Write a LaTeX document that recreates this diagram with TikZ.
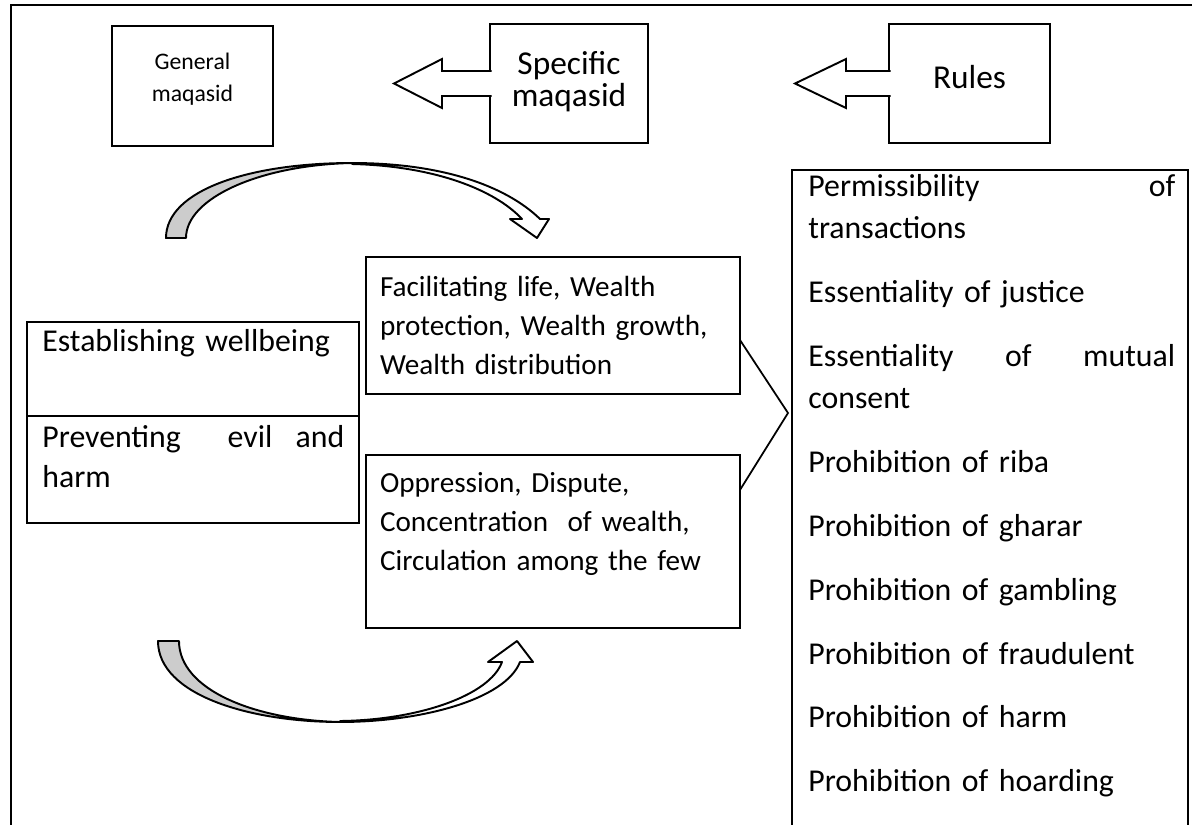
\documentclass[tikz,border=0pt]{standalone}
\usepackage{fontspec}
\setmainfont{Carlito}
\usetikzlibrary{positioning}

\begin{document}
\begin{tikzpicture}[x=0.02cm, y=-0.02cm,
	box/.style={draw, line width=1.1pt, inner sep=0pt, outer sep=0pt},
	para/.style={anchor=north west, inner sep=0pt, align=left},
	blockarrow/.style={draw, fill=white, line width=1.1pt},
	bendarrow/.style={draw, line width=1.1pt, line join=round}]
	\path[use as bounding box, clip] (0,0) rectangle (1192,824);
	\draw[line width=1.4pt] (11,830) -- (11,5) -- (1200,5);
	% top row
	\node[box, minimum width=3.22cm, minimum height=2.4cm] (gen) at (192.5,86) {};
	\node[box, minimum width=3.16cm, minimum height=2.38cm] (spec) at (569,83.5) {};
	\node[box, minimum width=3.22cm, minimum height=2.38cm] (rules) at (969.5,83.5) {};
	\node[align=center, font=\fontsize{13.5}{18.2}\selectfont] (gentxt) at ([yshift=0.14cm]gen.center) {General\\maqasid};
	\node[align=center, font=\fontsize{19}{18.2}\selectfont] (spectxt) at ([yshift=0.04cm]spec.center) {Specific\\maqasid};
	\node[font=\fontsize{19}{22}\selectfont] (rulestxt) at ([yshift=0.13cm]rules.center) {Rules};
	\draw[blockarrow] ([xshift=0.03cm]spec.west) ++(0,-12.5) -- ++(-49.5,0) -- ++(0,-12) -- ++(-48,24.5) -- ++(48,24.5) -- ++(0,-12) -- ++(49.5,0);
	\draw[blockarrow] ([xshift=0.03cm]rules.west) ++(0,-12.5) -- ++(-44.5,0) -- ++(0,-12) -- ++(-51,24.5) -- ++(51,24.5) -- ++(0,-12) -- ++(44.5,0);
	% left column
	\node[box, minimum width=6.64cm, minimum height=1.88cm] (estab) at (193,369) {};
	\node[box, minimum width=6.64cm, minimum height=2.14cm, below=0cm of estab] (prevent) {};
	\node[para, text width=6.04cm, font=\fontsize{18.1}{22.8}\selectfont, below right=0.14cm and 0.3cm of estab.north west] (estabtxt) {Establishing wellbeing};
	\node[para, text width=6.04cm, font=\fontsize{18.1}{22.8}\selectfont, below right=0.18cm and 0.3cm of prevent.north west] (preventtxt) {Preventing\hfill\hfill evil\hfill and\\ harm};
	% middle column
	\node[box, minimum width=7.48cm, minimum height=2.74cm, inner xsep=0.28cm, text width=6.92cm, align=left, font=\fontsize{16.6}{22.2}\selectfont] (facil) at (553,325.5) {Facilitating life, Wealth\\ protection, Wealth growth,\\ Wealth distribution};
	\node[box, minimum width=7.48cm, minimum height=3.46cm, inner xsep=0.28cm, text width=6.92cm, align=left, font=\fontsize{16.6}{22.2}\selectfont, below=1.22cm of facil] (oppr) {Oppression, Dispute,\\ Concentration\ \ of wealth,\\ Circulation among the few\\ \mbox{}};
	% rules list
	\node[box, minimum width=7.92cm, minimum height=14cm, anchor=north west] (rulelist) at (792,170) {};
	\node[para, text width=7.34cm, font=\fontsize{18.1}{24.2}\selectfont, below right=0.08cm and 0.32cm of rulelist.north west] (listtxt) {Permissibility\hfill of\\ transactions\\[0.425cm]
		Essentiality of justice\\[0.425cm]
		Essentiality\hfill of\hfill mutual\\ consent\\[0.425cm]
		Prohibition of riba\\[0.425cm]
		Prohibition of gharar\\[0.425cm]
		Prohibition of gambling\\[0.425cm]
		Prohibition of fraudulent\\[0.425cm]
		Prohibition of harm\\[0.425cm]
		Prohibition of hoarding};
	\coordinate (apex) at (788,413);
	\draw[line width=1pt] ([yshift=-0.29cm]facil.east) -- (apex) -- ([yshift=1.03cm]oppr.east);
	% curved arrows
	\draw[bendarrow, fill=black!20] (166,238) .. controls (166,190) and (250,163) .. (352,163) .. controls (260,165) and (186,198) .. (186,238) -- cycle;
	\draw[bendarrow, fill=white] (352,163) .. controls (440,163) and (505,185) .. (540,219) -- (549,219) -- (537,238) -- (510,219) -- (522,219) .. controls (495,190) and (435,166) .. (352,164) -- cycle;
	\draw[bendarrow, fill=black!20] (158,641) .. controls (158,695) and (250,722) .. (340,722) .. controls (255,720) and (179,690) .. (179,641) -- cycle;
	\draw[bendarrow, fill=white] (340,722) .. controls (420,722) and (505,700) .. (520,662) -- (533,662) -- (517,641) -- (488,662) -- (502,662) .. controls (490,695) and (420,720) .. (340,721) -- cycle;
\end{tikzpicture}
\end{document}
